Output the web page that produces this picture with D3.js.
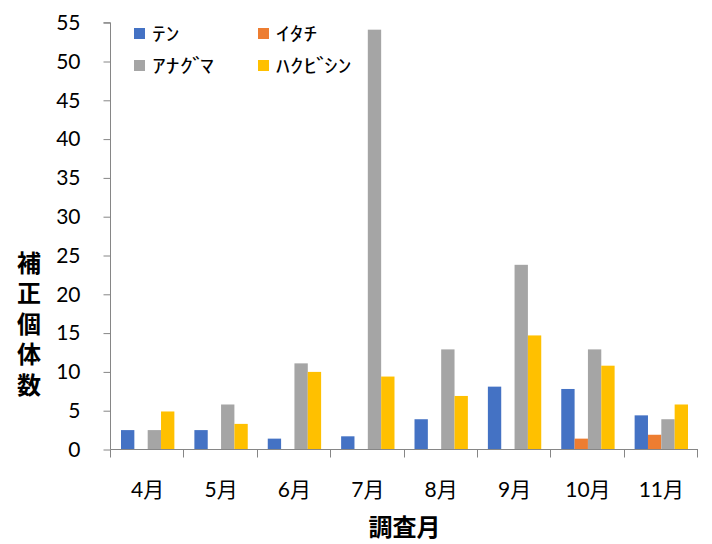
<!DOCTYPE html>
<html>
<head>
<meta charset="utf-8">
<script src="https://cdn.jsdelivr.net/npm/d3@7"></script>
<style>
  html, body { margin: 0; padding: 0; background: #fff; }
  svg { display: block; }
</style>
</head>
<body>
<svg id="chart" width="712" height="544"></svg>
<script>
// Survey months and corrected individual counts per species
const months = ["4月", "5月", "6月", "7月", "8月", "9月", "10月", "11月"];
const species = ["ﾃﾝ", "ｲﾀﾁ", "ｱﾅｸﾞﾏ", "ﾊｸﾋﾞｼﾝ"];
const ten      = [2.5, 2.5, 1.4, 1.7, 3.9, 8.1, 7.8, 4.4];
const itachi   = [0, 0, 0, 0, 0, 0, 1.4, 1.9];
const anaguma  = [2.5, 5.8, 11.1, 54.1, 12.9, 23.8, 12.9, 3.9];
const hakubishin = [4.9, 3.3, 10.0, 9.4, 6.9, 14.7, 10.8, 5.8];
const yTicks = [0, 5, 10, 15, 20, 25, 30, 35, 40, 45, 50, 55];
const colors = ["#4472C4", "#ED7D31", "#A5A5A5", "#FFC000"];

const seriesValues = [ten, itachi, anaguma, hakubishin];

const svg = d3.select("#chart");
const plot = { left: 111, right: 698, top: 22.7, bottom: 449.5 };
const axisColor = "#868686";
const numFont = "Lato, 'Noto Sans CJK JP', sans-serif";
const jpFont = "'Noto Sans CJK JP', sans-serif";

const x0 = d3.scaleBand().domain(months).range([plot.left, plot.right]).paddingInner(0).paddingOuter(0);
// four bars per month with a 150% gap split on both sides
const gapRatio = 1.5;
const x1 = d3.scaleBand().domain(d3.range(species.length))
  .range([0, x0.bandwidth()])
  .paddingInner(0)
  .paddingOuter(gapRatio / 2);
const y = d3.scaleLinear().domain([0, 55]).range([plot.bottom, plot.top]);

// bars
const groups = svg.append("g").selectAll("g")
  .data(months)
  .join("g")
  .attr("transform", d => `translate(${x0(d)},0)`);

groups.selectAll("rect")
  .data((m, i) => seriesValues.map((vals, s) => ({ s, v: vals[i] })))
  .join("rect")
  .filter(d => d.v > 0)
  .attr("x", d => x1(d.s))
  .attr("width", x1.bandwidth())
  .attr("y", d => y(d.v))
  .attr("height", d => y(0) - y(d.v))
  .attr("fill", d => colors[d.s]);

// y axis
const yAxis = d3.axisLeft(y).tickValues(yTicks).tickSize(7).tickPadding(23);
const yg = svg.append("g").attr("transform", `translate(${plot.left - 0.5},0)`).call(yAxis);
yg.select(".domain").attr("stroke", axisColor).attr("d", `M-7,${y(55)}H0V${y(0)}`);
yg.selectAll(".tick line").attr("stroke", axisColor);
yg.selectAll(".tick text")
  .attr("fill", "#000")
  .style("font-family", numFont)
  .style("font-size", "21px");

// x axis: baseline and separators between months
const xg = svg.append("g");
xg.append("line")
  .attr("x1", plot.left - 0.5).attr("x2", plot.right)
  .attr("y1", y(0)).attr("y2", y(0))
  .attr("stroke", axisColor);
const boundaries = months.map(m => x0(m)).concat([plot.right]);
xg.selectAll("line.sep")
  .data(boundaries)
  .join("line")
  .attr("class", "sep")
  .attr("x1", d => Math.round(d) - 0.5).attr("x2", d => Math.round(d) - 0.5)
  .attr("y1", y(0)).attr("y2", y(0) + 8)
  .attr("stroke", axisColor);
xg.selectAll("text.month")
  .data(months)
  .join("text")
  .attr("class", "month")
  .attr("x", d => x0(d) + x0.bandwidth() / 2)
  .attr("y", 497)
  .attr("text-anchor", "middle")
  .style("font-family", numFont)
  .style("font-size", "21px")
  .text(d => d);

// axis titles
svg.append("text")
  .attr("x", (plot.left + plot.right) / 2)
  .attr("y", 536)
  .attr("text-anchor", "middle")
  .style("font-family", jpFont)
  .style("font-weight", "bold")
  .style("font-size", "24px")
  .text("調査月");

// vertical stacked title on the value axis
svg.append("text")
  .attr("x", 29)
  .attr("y", 327)
  .attr("text-anchor", "middle")
  .style("writing-mode", "vertical-rl")
  .style("text-orientation", "upright")
  .style("letter-spacing", "6.5px")
  .style("font-family", jpFont)
  .style("font-weight", "bold")
  .style("font-size", "24px")
  .text("補正個体数");

// legend, two columns by two rows
const legend = svg.append("g");
const legendItems = legend.selectAll("g")
  .data(species)
  .join("g")
  .attr("transform", (d, i) => `translate(${134 + (i % 2) * 124},${28 + Math.floor(i / 2) * 32})`);
legendItems.append("rect")
  .attr("width", 11).attr("height", 11)
  .attr("fill", (d, i) => colors[i]);
// half-width kana, widened; the sound mark takes up less room than a full cell
legendItems.append("text")
  .attr("transform", "translate(18,13) scale(1.45,1)")
  .style("font-family", jpFont)
  .style("font-size", "19px")
  .selectAll("tspan")
  .data(d => Array.from(d).map((c, k, arr) => ({ c, next: arr[k + 1] })))
  .join("tspan")
  .style("letter-spacing", d => d.c === "ﾞ" ? "-4px" : (d.next === "ﾞ" ? "-1px" : null))
  .text(d => d.c);
</script>
</body>
</html>
